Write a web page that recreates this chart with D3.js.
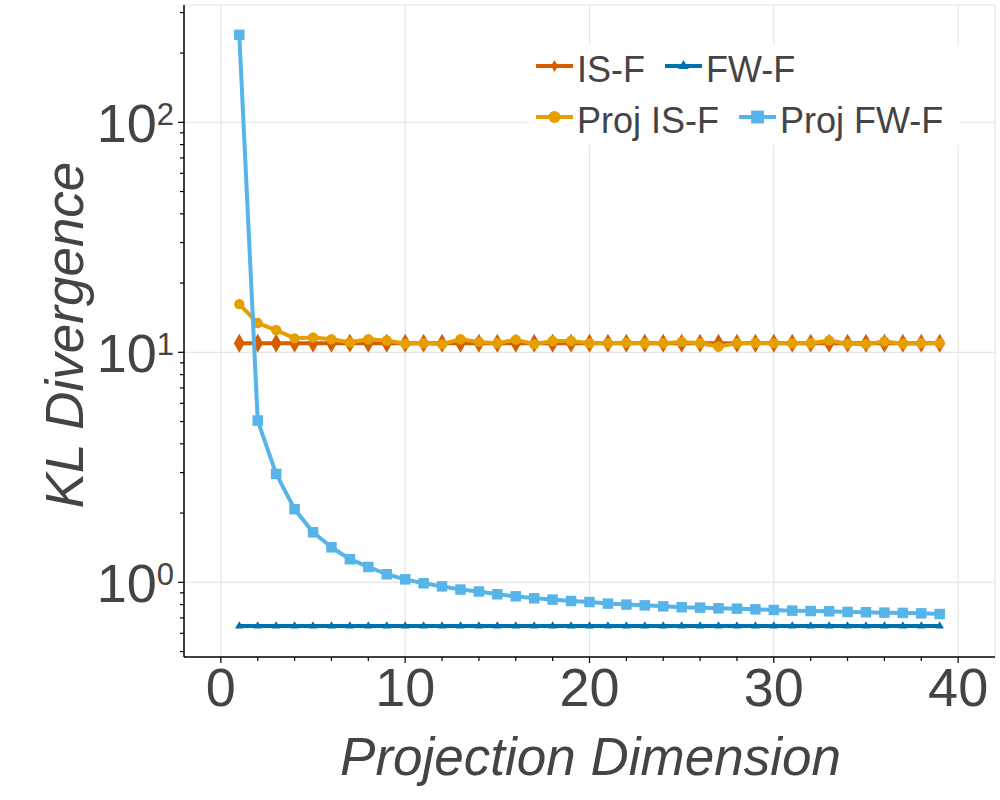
<!DOCTYPE html>
<html>

<head>
    <title>KL Divergence</title>
    <script src="https://cdn.jsdelivr.net/npm/d3@7"></script>
    <style>
        body { margin: 0; background: #fff; }
        text { font-family: "Liberation Sans", Arial, sans-serif; fill: #444; }
    </style>
</head>

<body>
    <svg width="1000" height="800" id="mainsvg" style="display: block;"></svg>
    <script>
        // data
        const dims = [1, 2, 3, 4, 5, 6, 7, 8, 9, 10, 11, 12, 13, 14, 15, 16, 17, 18, 19, 20,
            21, 22, 23, 24, 25, 26, 27, 28, 29, 30, 31, 32, 33, 34, 35, 36, 37, 38, 39];
        const isF = [10.95, 10.95, 10.95, 10.95, 10.95, 10.95, 10.95, 10.95, 10.95, 10.95,
            10.95, 10.95, 10.95, 10.95, 10.95, 10.95, 10.95, 10.95, 10.95, 10.95,
            10.95, 10.95, 10.95, 10.95, 10.95, 10.95, 10.95, 10.95, 10.95, 10.95,
            10.95, 10.95, 10.95, 10.95, 10.95, 10.95, 10.95, 10.95, 10.95];
        const fwF = [0.645, 0.645, 0.645, 0.645, 0.645, 0.645, 0.645, 0.645, 0.645, 0.645,
            0.645, 0.645, 0.645, 0.645, 0.645, 0.645, 0.645, 0.645, 0.645, 0.645,
            0.645, 0.645, 0.645, 0.645, 0.645, 0.645, 0.645, 0.645, 0.645, 0.645,
            0.645, 0.645, 0.645, 0.645, 0.645, 0.645, 0.645, 0.645, 0.645];
        const projIsF = [16.2, 13.4, 12.5, 11.5, 11.6, 11.4, 11.05, 11.4, 11.25, 10.9,
            10.95, 10.85, 11.4, 11.1, 10.95, 11.35, 10.85, 11.2, 11.2, 10.95,
            10.95, 11.0, 10.95, 10.95, 11.1, 10.95, 10.6, 10.95, 11.0, 10.95,
            10.95, 10.95, 11.25, 10.9, 10.85, 11.15, 10.9, 10.95, 10.95];
        const projFwF = [240, 5.05, 2.96, 2.08, 1.65, 1.42, 1.26, 1.166, 1.084, 1.03,
            0.99, 0.96, 0.93, 0.912, 0.887, 0.869, 0.852, 0.841, 0.829, 0.821,
            0.808, 0.800, 0.794, 0.786, 0.779, 0.776, 0.771, 0.768, 0.763, 0.758,
            0.753, 0.750, 0.748, 0.743, 0.741, 0.738, 0.736, 0.733, 0.728];
        const seriesNames = ['IS-F', 'FW-F', 'Proj IS-F', 'Proj FW-F'];
        const xTicks = [0, 10, 20, 30, 40];
        const yTicks = [1, 10, 100];

        const svg = d3.select('#mainsvg');
        const margin = { left: 184, right: 5, top: 5, bottom: 143 };
        const width = +svg.attr('width');
        const height = +svg.attr('height');
        const x0 = margin.left, x1 = width - margin.right;
        const y0 = height - margin.bottom, y1 = margin.top;

        const x = d3.scaleLinear().domain([-2, 42]).range([x0, x1]);
        const y = d3.scaleLog().domain([0.4734, 323.6]).range([y0, y1]);

        const series = [
            { name: seriesNames[0], values: isF, color: '#D55E00', shape: d3.symbolDiamond, size: 104, lsize: 42 },
            { name: seriesNames[1], values: fwF, color: '#0072B2', shape: d3.symbolTriangle, size: 32, lsize: 48 },
            { name: seriesNames[2], values: projIsF, color: '#E69F00', shape: d3.symbolCircle, size: 85, lsize: 115 },
            { name: seriesNames[3], values: projFwF, color: '#56B4E9', shape: d3.symbolSquare, size: 110, lsize: 165 }
        ];

        // grid + light frame
        const grid = svg.append('g').attr('stroke', '#e6e6e6').attr('stroke-width', 1.2);
        grid.selectAll('.gx').data(xTicks).join('line')
            .attr('x1', d => x(d)).attr('x2', d => x(d)).attr('y1', y0).attr('y2', y1);
        grid.selectAll('.gy').data(yTicks).join('line')
            .attr('x1', x0).attr('x2', x1).attr('y1', d => y(d)).attr('y2', d => y(d));
        grid.append('line').attr('x1', x0).attr('x2', x1).attr('y1', y1).attr('y2', y1);
        grid.append('line').attr('x1', x1).attr('x2', x1).attr('y1', y1).attr('y2', y0);

        // series
        const line = d3.line().x((d, i) => x(dims[i])).y(d => y(d));
        series.forEach(s => {
            const g = svg.append('g');
            g.append('path')
                .attr('d', line(s.values))
                .attr('fill', 'none')
                .attr('stroke', s.color)
                .attr('stroke-width', 4)
                .attr('stroke-linejoin', 'round');
            g.selectAll('path.mk').data(s.values).join('path')
                .attr('class', 'mk')
                .attr('d', d3.symbol().type(s.shape).size(s.size))
                .attr('fill', s.color)
                .attr('transform', (d, i) => `translate(${x(dims[i])},${y(d)})`);
        });

        // axes
        const axes = svg.append('g').attr('stroke', '#000');
        axes.append('line').attr('x1', x0).attr('x2', x1).attr('y1', y0).attr('y2', y0).attr('stroke-width', 1.5);
        axes.append('line').attr('x1', x0).attr('x2', x0).attr('y1', y0).attr('y2', y1).attr('stroke-width', 1.5);

        const xMinor = d3.range(0, 42, 2).filter(d => d % 10 !== 0);
        axes.selectAll('.xt').data(xTicks).join('line')
            .attr('x1', d => x(d)).attr('x2', d => x(d)).attr('y1', y0).attr('y2', y0 + 6).attr('stroke-width', 1.2);
        axes.selectAll('.xm').data(xMinor).join('line')
            .attr('x1', d => x(d)).attr('x2', d => x(d)).attr('y1', y0).attr('y2', y0 + 4).attr('stroke-width', 1.2);

        const yMinor = [];
        [0.1, 1, 10, 100].forEach(dec => {
            for (let k = 2; k <= 9; k++) {
                const v = dec * k;
                if (v >= y.domain()[0] && v <= y.domain()[1]) yMinor.push(v);
            }
        });
        axes.selectAll('.yt').data(yTicks).join('line')
            .attr('x1', x0 - 6).attr('x2', x0).attr('y1', d => y(d)).attr('y2', d => y(d)).attr('stroke-width', 1.2);
        axes.selectAll('.ym').data(yMinor).join('line')
            .attr('x1', x0 - 4).attr('x2', x0).attr('y1', d => y(d)).attr('y2', d => y(d)).attr('stroke-width', 1.2);

        // tick labels
        svg.selectAll('.xl').data(xTicks).join('text')
            .attr('class', 'xl')
            .attr('x', d => x(d)).attr('y', y0 + 49)
            .attr('text-anchor', 'middle')
            .attr('font-size', 54)
            .text(d => d);

        const yl = svg.selectAll('.yl').data(yTicks).join('text')
            .attr('class', 'yl')
            .attr('x', x0 - 10).attr('y', d => y(d) + 19.5)
            .attr('text-anchor', 'end')
            .attr('font-size', 54);
        yl.append('tspan').text('10');
        yl.append('tspan').attr('font-size', 31).attr('dy', -17).text(d => Math.round(Math.log10(d)));

        // axis titles
        svg.append('text')
            .attr('x', (x0 + x1) / 2 + 1).attr('y', 775)
            .attr('text-anchor', 'middle')
            .attr('font-size', 53).attr('font-style', 'italic')
            .text('Projection Dimension');
        svg.append('text')
            .attr('transform', `translate(83, ${(y0 + y1) / 2 + 4}) rotate(-90)`)
            .attr('text-anchor', 'middle')
            .attr('font-size', 53).attr('font-style', 'italic')
            .text('KL Divergence');

        // legend: two rows, flowing entries
        const legend = svg.append('g');
        const box = legend.append('rect').attr('fill', '#fff');
        const rows = [[series[0], series[1]], [series[2], series[3]]];
        const lx = 536, ly = [66, 117], lineLen = 37;
        rows.forEach((row, r) => {
            let cx = lx;
            row.forEach(s => {
                const e = legend.append('g').attr('transform', `translate(${cx},${ly[r]})`);
                e.append('line').attr('x1', 0).attr('x2', lineLen).attr('y1', 0).attr('y2', 0)
                    .attr('stroke', s.color).attr('stroke-width', 4);
                e.append('path').attr('d', d3.symbol().type(s.shape).size(s.lsize)())
                    .attr('fill', s.color).attr('transform', `translate(${lineLen / 2},0)`);
                const t = e.append('text').attr('x', lineLen + 4).attr('y', 15.5)
                    .attr('font-size', 36).text(s.name);
                cx += lineLen + 4 + t.node().getComputedTextLength() + 20;
            });
        });
        box.attr('x', 527).attr('y', 45).attr('width', 433).attr('height', 100);
    </script>
</body>

</html>
